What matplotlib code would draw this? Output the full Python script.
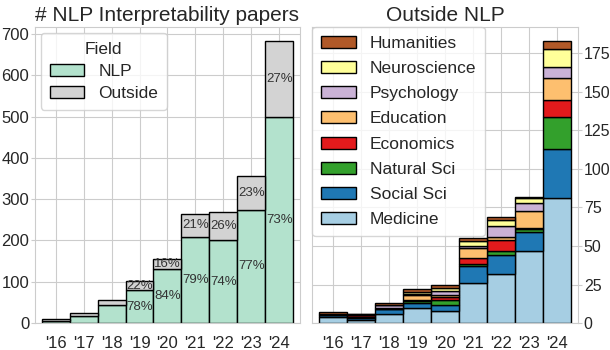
import numpy as np
import matplotlib.pyplot as plt
import seaborn as sns

years = ["'16", "'17", "'18", "'19", "'20", "'21", "'22", "'23", "'24"]
nlp = [4, 18, 44, 79, 131, 209, 200, 274, 500]

fields = ["Medicine", "Social Sci", "Natural Sci", "Economics",
          "Education", "Psychology", "Neuroscience", "Humanities"]
medicine = [4, 2, 6, 10, 8, 26, 32, 47, 81]
social_sci = [1, 1, 3, 3, 4, 11, 12, 12, 32]
natural_sci = [0, 1, 0, 1, 3, 1, 3, 2, 21]
economics = [1, 1, 1, 1, 2, 4, 7, 1, 11]
education = [0, 0, 0, 3, 1, 7, 2, 11, 14]
psychology = [0, 0, 2, 1, 3, 1, 7, 5, 7]
neuroscience = [0, 1, 0, 1, 2, 3, 4, 3, 12]
humanities = [1, 0, 1, 2, 2, 2, 2, 1, 5]

field_colors = ["#a6cee3", "#1f78b4", "#33a02c", "#e31a1c",
                "#fdbf6f", "#cab2d6", "#ffff99", "#b15928"]

sns.set_style("whitegrid")
plt.rcParams["font.family"] = ["Liberation Sans", "DejaVu Sans"]
plt.rcParams["text.color"] = "0.15"
plt.rcParams["xtick.color"] = "0.15"
plt.rcParams["ytick.color"] = "0.15"

field_data = [medicine, social_sci, natural_sci, economics,
              education, psychology, neuroscience, humanities]
outside = np.sum(np.array(field_data), axis=0)
nlp = np.array(nlp)
x = np.arange(len(years))

fig = plt.figure(figsize=(6.1, 3.5), dpi=100)
ax1 = fig.add_axes([0.057, 0.077, 0.435, 0.846])
ax2 = fig.add_axes([0.512, 0.077, 0.436, 0.846])

# left: NLP vs outside
ax1.bar(x, nlp, width=1, color="#b3e2cd", edgecolor="black", linewidth=1, label="NLP")
ax1.bar(x, outside, width=1, bottom=nlp, color="lightgray", edgecolor="black",
        linewidth=1, label="Outside")
total = nlp + outside
for i in range(len(years)):
    if total[i] < 100:
        continue
    ax1.text(x[i], nlp[i] / 2, f"{nlp[i] / total[i] * 100:.0f}%", ha="center",
             va="center", fontsize=9.5, color="0.2")
    ax1.text(x[i], nlp[i] + outside[i] / 2, f"{outside[i] / total[i] * 100:.0f}%",
             ha="center", va="center", fontsize=9.5, color="0.2")

ax1.set_title("# NLP Interpretability papers", fontsize=15, pad=4)
ax1.set_xticks(x)
ax1.set_xticklabels(years, fontsize=12)
ax1.set_yticks(range(0, 701, 100))
ax1.tick_params(axis="y", labelsize=12, left=True, length=3, color="0.8", pad=1)
ax1.tick_params(axis="x", pad=6)
ax1.set_xlim(-0.75, 8.75)
ax1.legend(title="Field", fontsize=12.5, title_fontsize=12.5, loc="upper left",
           borderaxespad=0.35, labelspacing=0.4, borderpad=0.5, frameon=True)

# right: breakdown of outside papers
bottom = np.zeros(len(years))
for name, vals, col in zip(fields, field_data, field_colors):
    ax2.bar(x, vals, width=1, bottom=bottom, color=col, edgecolor="black",
            linewidth=1, label=name)
    bottom = bottom + np.array(vals)

ax2.set_title("Outside NLP", fontsize=15, pad=4)
ax2.set_xticks(x)
ax2.set_xticklabels(years, fontsize=12)
ax2.yaxis.tick_right()
ax2.set_yticks(range(0, 176, 25))
ax2.tick_params(axis="y", labelsize=11.5, right=True, left=False, length=3,
                color="0.8", pad=1)
ax2.tick_params(axis="x", pad=6)
ax2.set_xlim(-0.75, 8.75)
h, l = ax2.get_legend_handles_labels()
ax2.legend(h[::-1], l[::-1], fontsize=12.5, loc="upper left", borderaxespad=0,
           labelspacing=0.58, borderpad=0.5, frameon=True)

plt.savefig("out.png", dpi=100)
